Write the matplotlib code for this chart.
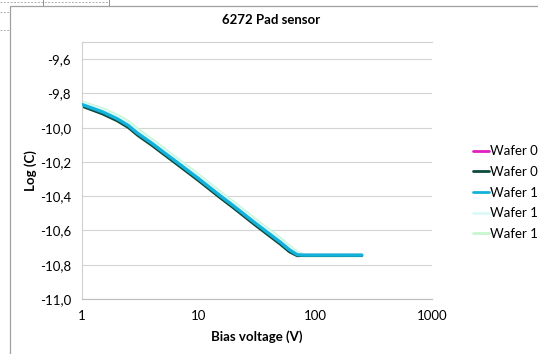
import matplotlib
matplotlib.use("Agg")
import matplotlib.pyplot as plt
import matplotlib.ticker as mticker
from matplotlib.lines import Line2D
from matplotlib.patches import Rectangle

plt.rcParams['font.family'] = ['Lato', 'DejaVu Sans']

# Bias voltage points (V) and log of capacitance for each wafer
voltage = [1, 1.5, 2, 2.5, 3, 4, 5, 7, 10, 15, 20, 30, 40, 50, 60, 70, 80, 100, 150, 200, 250]
wafer_02 = [-9.870, -9.915, -9.955, -9.995, -10.040, -10.100, -10.150, -10.225, -10.305, -10.400,
            -10.465, -10.560, -10.625, -10.675, -10.720, -10.745, -10.745, -10.745, -10.745, -10.745, -10.745]
wafer_07 = [-9.875, -9.920, -9.960, -10.000, -10.045, -10.105, -10.155, -10.230, -10.310, -10.405,
            -10.470, -10.565, -10.630, -10.680, -10.725, -10.748, -10.746, -10.746, -10.746, -10.746, -10.746]
wafer_10 = [-9.865, -9.908, -9.948, -9.988, -10.033, -10.093, -10.143, -10.218, -10.298, -10.393,
            -10.458, -10.553, -10.618, -10.668, -10.713, -10.742, -10.744, -10.744, -10.744, -10.744, -10.744]
wafer_11 = [-9.858, -9.900, -9.940, -9.978, -10.023, -10.083, -10.133, -10.208, -10.288, -10.383,
            -10.448, -10.543, -10.608, -10.658, -10.703, -10.737, -10.745, -10.745, -10.745, -10.745, -10.745]
wafer_12 = [-9.853, -9.893, -9.931, -9.968, -10.013, -10.075, -10.125, -10.200, -10.280, -10.375,
            -10.440, -10.535, -10.600, -10.650, -10.695, -10.731, -10.746, -10.747, -10.746, -10.745, -10.745]

labels = ["Wafer 02", "Wafer 07", "Wafer 10", "Wafer 11", "Wafer 12"]
series = [wafer_02, wafer_07, wafer_10, wafer_11, wafer_12]
colors = ["#e020c0", "#0b4a3c", "#12b2da", "#dcf9f9", "#c8f6d0"]
widths = [2.0, 2.0, 2.4, 3.0, 3.0]
zorders = [2, 2.5, 3, 1.5, 1]
y_ticks = [-11.0, -10.8, -10.6, -10.4, -10.2, -10.0, -9.8, -9.6]

fig = plt.figure(figsize=(5.38, 3.54), dpi=100)
fig.patch.set_facecolor("white")

# chart area frame (Excel style) and sheet gridlines peeking out top-left
fig.add_artist(Rectangle((10 / 538, -0.1), 1.2, (354 - 6) / 354 + 0.1, transform=fig.transFigure,
                         fill=False, edgecolor="#a0a0a0", lw=0.9))
fig.add_artist(Line2D([0, 108 / 538], [1 - 2 / 354] * 2, transform=fig.transFigure,
                      color="#b0b0b0", lw=0.7, ls=(0, (2, 1.5))))
for yy in [12, 30]:
    fig.add_artist(Line2D([0, 9 / 538], [1 - yy / 354] * 2, transform=fig.transFigure,
                          color="#b0b0b0", lw=0.7, ls=(0, (2, 1.5))))
for xx in [43, 109]:
    fig.add_artist(Line2D([xx / 538] * 2, [1 - 5 / 354, 1], transform=fig.transFigure,
                          color="#909090", lw=0.7))

ax = fig.add_axes([82 / 538, (354 - 299) / 354, 350 / 538, 257 / 354])

for vals, lab, col, w, z in zip(series, labels, colors, widths, zorders):
    ax.plot(voltage, vals, color=col, lw=w, label=lab, zorder=z, solid_capstyle="round")

ax.set_xscale("log")
ax.set_xlim(1, 1000)
ax.set_ylim(-11.0, -9.5)
ax.xaxis.set_major_locator(mticker.FixedLocator([1, 10, 100, 1000]))
ax.xaxis.set_major_formatter(mticker.FixedFormatter(["1", "10", "100", "1000"]))
ax.xaxis.set_minor_locator(mticker.NullLocator())
ax.yaxis.set_major_locator(mticker.FixedLocator(y_ticks))
ax.yaxis.set_major_formatter(mticker.FuncFormatter(lambda v, p: ("%.1f" % v).replace(".", ",")))
ax.tick_params(length=0, labelsize=9.5, colors="#000000", pad=8)
ax.grid(axis="y", color="#d4d4d4", lw=0.8)
ax.set_axisbelow(True)
for side in ["left", "top", "right", "bottom"]:
    ax.spines[side].set_color("#d0d0d0")
    ax.spines[side].set_linewidth(0.8)
ax.spines["right"].set_visible(False)
ax.spines["bottom"].set_color("#bcbcbc")

ax.set_xlabel("Bias voltage (V)", fontsize=9.5, fontweight="bold", labelpad=6)
ax.set_ylabel("Log (C)", fontsize=9.5, fontweight="bold", labelpad=2)
fig.text(271 / 538, 1 - 20 / 354, "6272 Pad sensor", ha="center", va="center",
         fontsize=9.5, fontweight="bold")

leg = ax.legend(loc="upper left", bbox_to_anchor=(468 / 538, 1 - 140 / 354),
                bbox_transform=fig.transFigure, frameon=False, fontsize=9.5,
                handlelength=1.2, handletextpad=0.05, labelspacing=0.66, borderaxespad=0)
for h in leg.get_lines():
    h.set_linewidth(2)

fig.savefig("out.png", dpi=100)
